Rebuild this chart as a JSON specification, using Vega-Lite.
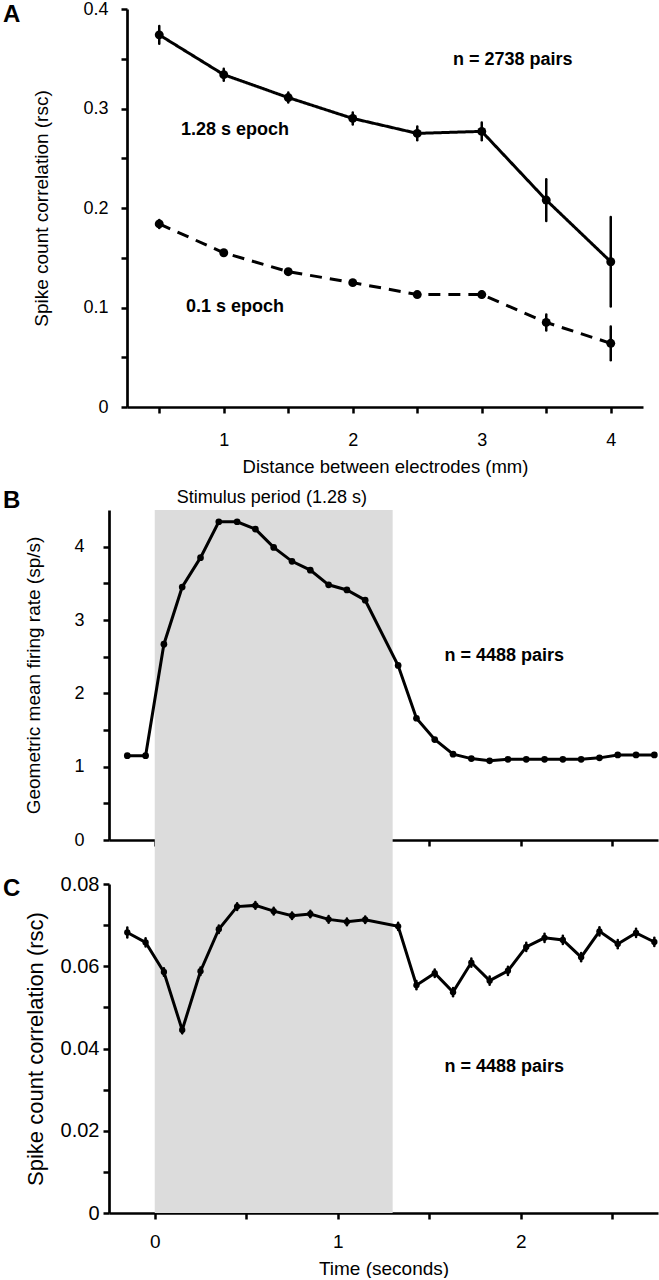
{
  "$schema": "https://vega.github.io/schema/vega-lite/v6.json",
  "background": "white",
  "padding": {"left": 3, "top": 0, "right": 0, "bottom": 0},
  "config": {
    "view": {"stroke": null},
    "font": "Liberation Sans",
    "title": {"font": "Liberation Sans", "color": "black"},
    "text": {"font": "Liberation Sans", "color": "black"},
    "axis": {
      "domainColor": "black", "domainWidth": 2.7, "tickColor": "black", "tickWidth": 2.5, "tickSize": 6,
      "labelFont": "Liberation Sans", "labelFontSize": 18, "labelColor": "black",
      "titleFont": "Liberation Sans", "titleFontSize": 19, "titleFontWeight": "normal", "titleColor": "black",
      "grid": false, "zindex": 1, "labelFlush": false, "labelOverlap": false
    }
  },
  "datasets": {
    "distance": [
      {"mm": 0.5, "epoch": "1.28 s epoch", "rsc": 0.374, "lo": 0.365, "hi": 0.383},
      {"mm": 1.0, "epoch": "1.28 s epoch", "rsc": 0.334, "lo": 0.328, "hi": 0.340},
      {"mm": 1.5, "epoch": "1.28 s epoch", "rsc": 0.311, "lo": 0.306, "hi": 0.316},
      {"mm": 2.0, "epoch": "1.28 s epoch", "rsc": 0.290, "lo": 0.284, "hi": 0.296},
      {"mm": 2.5, "epoch": "1.28 s epoch", "rsc": 0.275, "lo": 0.268, "hi": 0.282},
      {"mm": 3.0, "epoch": "1.28 s epoch", "rsc": 0.277, "lo": 0.268, "hi": 0.286},
      {"mm": 3.5, "epoch": "1.28 s epoch", "rsc": 0.208, "lo": 0.187, "hi": 0.229},
      {"mm": 4.0, "epoch": "1.28 s epoch", "rsc": 0.146, "lo": 0.101, "hi": 0.191},
      {"mm": 0.5, "epoch": "0.1 s epoch", "rsc": 0.184, "lo": 0.180, "hi": 0.188},
      {"mm": 1.0, "epoch": "0.1 s epoch", "rsc": 0.155, "lo": 0.153, "hi": 0.157},
      {"mm": 1.5, "epoch": "0.1 s epoch", "rsc": 0.136, "lo": 0.134, "hi": 0.138},
      {"mm": 2.0, "epoch": "0.1 s epoch", "rsc": 0.125, "lo": 0.123, "hi": 0.127},
      {"mm": 2.5, "epoch": "0.1 s epoch", "rsc": 0.113, "lo": 0.111, "hi": 0.115},
      {"mm": 3.0, "epoch": "0.1 s epoch", "rsc": 0.113, "lo": 0.110, "hi": 0.116},
      {"mm": 3.5, "epoch": "0.1 s epoch", "rsc": 0.085, "lo": 0.077, "hi": 0.093},
      {"mm": 4.0, "epoch": "0.1 s epoch", "rsc": 0.064, "lo": 0.047, "hi": 0.081}
    ],
    "notesA": [
      {"mm": 3.24, "rsc": 0.349, "label": "n = 2738 pairs"},
      {"mm": 1.087, "rsc": 0.278, "label": "1.28 s epoch"},
      {"mm": 1.087, "rsc": 0.1005, "label": "0.1 s epoch"}
    ],
    "stimulusB": [{"start": 0, "end": 1.3, "mid": 0.64, "label": "Stimulus period (1.28 s)"}],
    "stimulusC": [{"start": 0, "end": 1.3}],
    "rate": [
      {"t": -0.15, "rate": 1.15}, {"t": -0.05, "rate": 1.15}, {"t": 0.05, "rate": 2.67},
      {"t": 0.15, "rate": 3.45}, {"t": 0.25, "rate": 3.85}, {"t": 0.35, "rate": 4.34},
      {"t": 0.45, "rate": 4.34}, {"t": 0.55, "rate": 4.24}, {"t": 0.65, "rate": 3.99},
      {"t": 0.75, "rate": 3.80}, {"t": 0.85, "rate": 3.68}, {"t": 0.95, "rate": 3.48},
      {"t": 1.05, "rate": 3.41}, {"t": 1.15, "rate": 3.27}, {"t": 1.33, "rate": 2.38},
      {"t": 1.43, "rate": 1.66}, {"t": 1.53, "rate": 1.37}, {"t": 1.63, "rate": 1.17},
      {"t": 1.73, "rate": 1.11}, {"t": 1.83, "rate": 1.08}, {"t": 1.93, "rate": 1.10},
      {"t": 2.03, "rate": 1.10}, {"t": 2.13, "rate": 1.10}, {"t": 2.23, "rate": 1.10},
      {"t": 2.33, "rate": 1.10}, {"t": 2.43, "rate": 1.12}, {"t": 2.53, "rate": 1.16},
      {"t": 2.63, "rate": 1.16}, {"t": 2.73, "rate": 1.16}
    ],
    "noteB": [{"t": 1.91, "rate": 2.51, "label": "n = 4488 pairs"}],
    "corr": [
      {"t": -0.15, "rsc": 0.0682, "lo": 0.0670, "hi": 0.0694},
      {"t": -0.05, "rsc": 0.0658, "lo": 0.0648, "hi": 0.0668},
      {"t": 0.05, "rsc": 0.0586, "lo": 0.0577, "hi": 0.0595},
      {"t": 0.15, "rsc": 0.0445, "lo": 0.0437, "hi": 0.0453},
      {"t": 0.25, "rsc": 0.0588, "lo": 0.0579, "hi": 0.0597},
      {"t": 0.35, "rsc": 0.0690, "lo": 0.0681, "hi": 0.0699},
      {"t": 0.45, "rsc": 0.0745, "lo": 0.0737, "hi": 0.0753},
      {"t": 0.55, "rsc": 0.0748, "lo": 0.0740, "hi": 0.0756},
      {"t": 0.65, "rsc": 0.0734, "lo": 0.0726, "hi": 0.0742},
      {"t": 0.75, "rsc": 0.0723, "lo": 0.0715, "hi": 0.0731},
      {"t": 0.85, "rsc": 0.0727, "lo": 0.0719, "hi": 0.0735},
      {"t": 0.95, "rsc": 0.0714, "lo": 0.0706, "hi": 0.0722},
      {"t": 1.05, "rsc": 0.0708, "lo": 0.0700, "hi": 0.0716},
      {"t": 1.15, "rsc": 0.0713, "lo": 0.0705, "hi": 0.0721},
      {"t": 1.33, "rsc": 0.0697, "lo": 0.0688, "hi": 0.0706},
      {"t": 1.43, "rsc": 0.0554, "lo": 0.0544, "hi": 0.0564},
      {"t": 1.53, "rsc": 0.0583, "lo": 0.0574, "hi": 0.0592},
      {"t": 1.63, "rsc": 0.0537, "lo": 0.0527, "hi": 0.0547},
      {"t": 1.73, "rsc": 0.0609, "lo": 0.0599, "hi": 0.0619},
      {"t": 1.83, "rsc": 0.0565, "lo": 0.0555, "hi": 0.0575},
      {"t": 1.93, "rsc": 0.0589, "lo": 0.0579, "hi": 0.0599},
      {"t": 2.03, "rsc": 0.0647, "lo": 0.0637, "hi": 0.0657},
      {"t": 2.13, "rsc": 0.0669, "lo": 0.0659, "hi": 0.0679},
      {"t": 2.23, "rsc": 0.0664, "lo": 0.0654, "hi": 0.0674},
      {"t": 2.33, "rsc": 0.0622, "lo": 0.0612, "hi": 0.0632},
      {"t": 2.43, "rsc": 0.0685, "lo": 0.0675, "hi": 0.0695},
      {"t": 2.53, "rsc": 0.0654, "lo": 0.0644, "hi": 0.0664},
      {"t": 2.63, "rsc": 0.0681, "lo": 0.0671, "hi": 0.0691},
      {"t": 2.73, "rsc": 0.0659, "lo": 0.0649, "hi": 0.0669}
    ],
    "noteC": [{"t": 1.91, "rsc": 0.0355, "label": "n = 4488 pairs"}]
  },
  "bounds": "flush",
  "spacing": 103,
  "vconcat": [
    {
      "width": 516,
      "height": 398,
      "title": {"text": "A", "anchor": "start", "frame": "group", "orient": "top", "offset": 0, "dx": -124, "dy": 46, "baseline": "alphabetic", "fontSize": 24, "fontWeight": "bold"},
      "encoding": {
        "x": {"field": "mm", "type": "quantitative", "scale": {"domain": [0.25, 4.25], "nice": false, "zero": false},
              "axis": {"values": [0.5, 1, 1.5, 2, 2.5, 3, 3.5, 4], "labelExpr": "datum.value % 1 === 0 ? format(datum.value, 'd') : ''",
                       "title": "Distance between electrodes (mm)", "labelPadding": 18, "titleY": 65, "titleBaseline": "alphabetic", "titleFontSize": 18.5}},
        "y": {"field": "rsc", "type": "quantitative", "scale": {"domain": [0, 0.4], "nice": false},
              "axis": {"values": [0, 0.05, 0.1, 0.15, 0.2, 0.25, 0.3, 0.35, 0.4], "labelExpr": "round(datum.value * 100) % 10 === 0 ? format(datum.value, '.1~f') : ''",
                       "title": "Spike count correlation (rsc)", "labelPadding": 13, "titleX": -80, "titleBaseline": "alphabetic"}}
      },
      "layer": [
        {"data": {"name": "distance"}, "mark": {"type": "rule", "color": "black", "strokeWidth": 2.5, "strokeCap": "round"},
         "encoding": {"y": {"field": "lo", "type": "quantitative"}, "y2": {"field": "hi"}}},
        {"data": {"name": "distance"}, "mark": {"type": "line", "color": "black", "strokeWidth": 3},
         "encoding": {"strokeDash": {"field": "epoch", "type": "nominal", "scale": {"domain": ["1.28 s epoch", "0.1 s epoch"], "range": [[1, 0], [12, 8]]}, "legend": null}}},
        {"data": {"name": "distance"}, "mark": {"type": "circle", "color": "black", "size": 80, "opacity": 1}},
        {"data": {"name": "notesA"}, "mark": {"type": "text", "fontSize": 18, "fontWeight": "bold"},
         "encoding": {"text": {"field": "label", "type": "nominal"}}}
      ]
    },
    {
      "bounds": "flush",
      "spacing": 44,
      "vconcat": [
        {
          "width": 531,
          "height": 330,
          "title": {"text": "B", "anchor": "start", "frame": "group", "orient": "top", "offset": 0, "dx": -124, "dy": 43, "baseline": "alphabetic", "fontSize": 24, "fontWeight": "bold"},
          "layer": [
            {"data": {"name": "stimulusB"}, "mark": {"type": "rect", "color": "#dcdcdc", "clip": false},
             "encoding": {
               "x": {"field": "start", "type": "quantitative", "scale": {"domain": [-0.25, 2.75], "range": [-18, 531], "nice": false, "zero": false},
                     "axis": {"values": [0, 0.5, 1, 1.5, 2, 2.5], "labels": false, "title": null}},
               "x2": {"field": "end"},
               "y": {"datum": 4.5, "type": "quantitative", "scale": {"domain": [0, 4.5], "nice": false},
                     "axis": {"values": [0, 0.5, 1, 1.5, 2, 2.5, 3, 3.5, 4], "labelExpr": "datum.value % 1 === 0 ? format(datum.value, 'd') : ''",
                              "title": "Geometric mean firing rate (sp/s)", "offset": 18, "labelPadding": 19, "titleX": -70, "titleBaseline": "alphabetic"}},
               "y2": {"datum": -0.6}}},
            {"data": {"name": "stimulusB"}, "mark": {"type": "text", "fontSize": 18, "baseline": "bottom", "dy": -3},
             "encoding": {"x": {"field": "mid", "type": "quantitative"}, "y": {"datum": 4.5, "type": "quantitative"}, "text": {"field": "label", "type": "nominal"}}},
            {"data": {"name": "rate"}, "mark": {"type": "line", "color": "black", "strokeWidth": 3},
             "encoding": {"x": {"field": "t", "type": "quantitative"}, "y": {"field": "rate", "type": "quantitative"}}},
            {"data": {"name": "rate"}, "mark": {"type": "circle", "color": "black", "size": 45, "opacity": 1},
             "encoding": {"x": {"field": "t", "type": "quantitative"}, "y": {"field": "rate", "type": "quantitative"}}},
            {"data": {"name": "noteB"}, "mark": {"type": "text", "fontSize": 18, "fontWeight": "bold"},
             "encoding": {"x": {"field": "t", "type": "quantitative"}, "y": {"field": "rate", "type": "quantitative"}, "text": {"field": "label", "type": "nominal"}}}
          ]
        },
        {
          "width": 531,
          "height": 329,
          "title": {"text": "C", "anchor": "start", "frame": "group", "orient": "top", "offset": 0, "dx": -124, "dy": 46, "baseline": "alphabetic", "fontSize": 24, "fontWeight": "bold"},
          "layer": [
            {"data": {"name": "stimulusC"}, "mark": {"type": "rect", "color": "#dcdcdc"},
             "encoding": {
               "x": {"field": "start", "type": "quantitative", "scale": {"domain": [-0.25, 2.75], "range": [-18, 531], "nice": false, "zero": false},
                     "axis": {"values": [0, 0.5, 1, 1.5, 2, 2.5], "labelExpr": "datum.value % 1 === 0 ? format(datum.value, 'd') : ''",
                              "title": "Time (seconds)", "labelPadding": 13, "titleY": 61, "titleBaseline": "alphabetic", "labelFontSize": 19}},
               "x2": {"field": "end"},
               "y": {"datum": 0.08, "type": "quantitative", "scale": {"domain": [0, 0.08], "nice": false},
                     "axis": {"values": [0, 0.01, 0.02, 0.03, 0.04, 0.05, 0.06, 0.07, 0.08],
                              "labelExpr": "round(datum.value * 100) % 2 === 0 ? (datum.value == 0 ? '0' : format(datum.value, '.2f')) : ''",
                              "title": "Spike count correlation (rsc)", "offset": 18, "labelPadding": 4, "labelFontSize": 20, "titleFontSize": 22, "titleX": -67, "titleBaseline": "alphabetic"}},
               "y2": {"datum": 0}}},
            {"data": {"name": "corr"}, "mark": {"type": "rule", "color": "black", "strokeWidth": 2.5, "strokeCap": "round"},
             "encoding": {"x": {"field": "t", "type": "quantitative"}, "y": {"field": "lo", "type": "quantitative"}, "y2": {"field": "hi"}}},
            {"data": {"name": "corr"}, "mark": {"type": "line", "color": "black", "strokeWidth": 3},
             "encoding": {"x": {"field": "t", "type": "quantitative"}, "y": {"field": "rsc", "type": "quantitative"}}},
            {"data": {"name": "corr"}, "mark": {"type": "circle", "color": "black", "size": 40, "opacity": 1},
             "encoding": {"x": {"field": "t", "type": "quantitative"}, "y": {"field": "rsc", "type": "quantitative"}}},
            {"data": {"name": "noteC"}, "mark": {"type": "text", "fontSize": 18, "fontWeight": "bold"},
             "encoding": {"x": {"field": "t", "type": "quantitative"}, "y": {"field": "rsc", "type": "quantitative"}, "text": {"field": "label", "type": "nominal"}}}
          ]
        }
      ]
    }
  ]
}
